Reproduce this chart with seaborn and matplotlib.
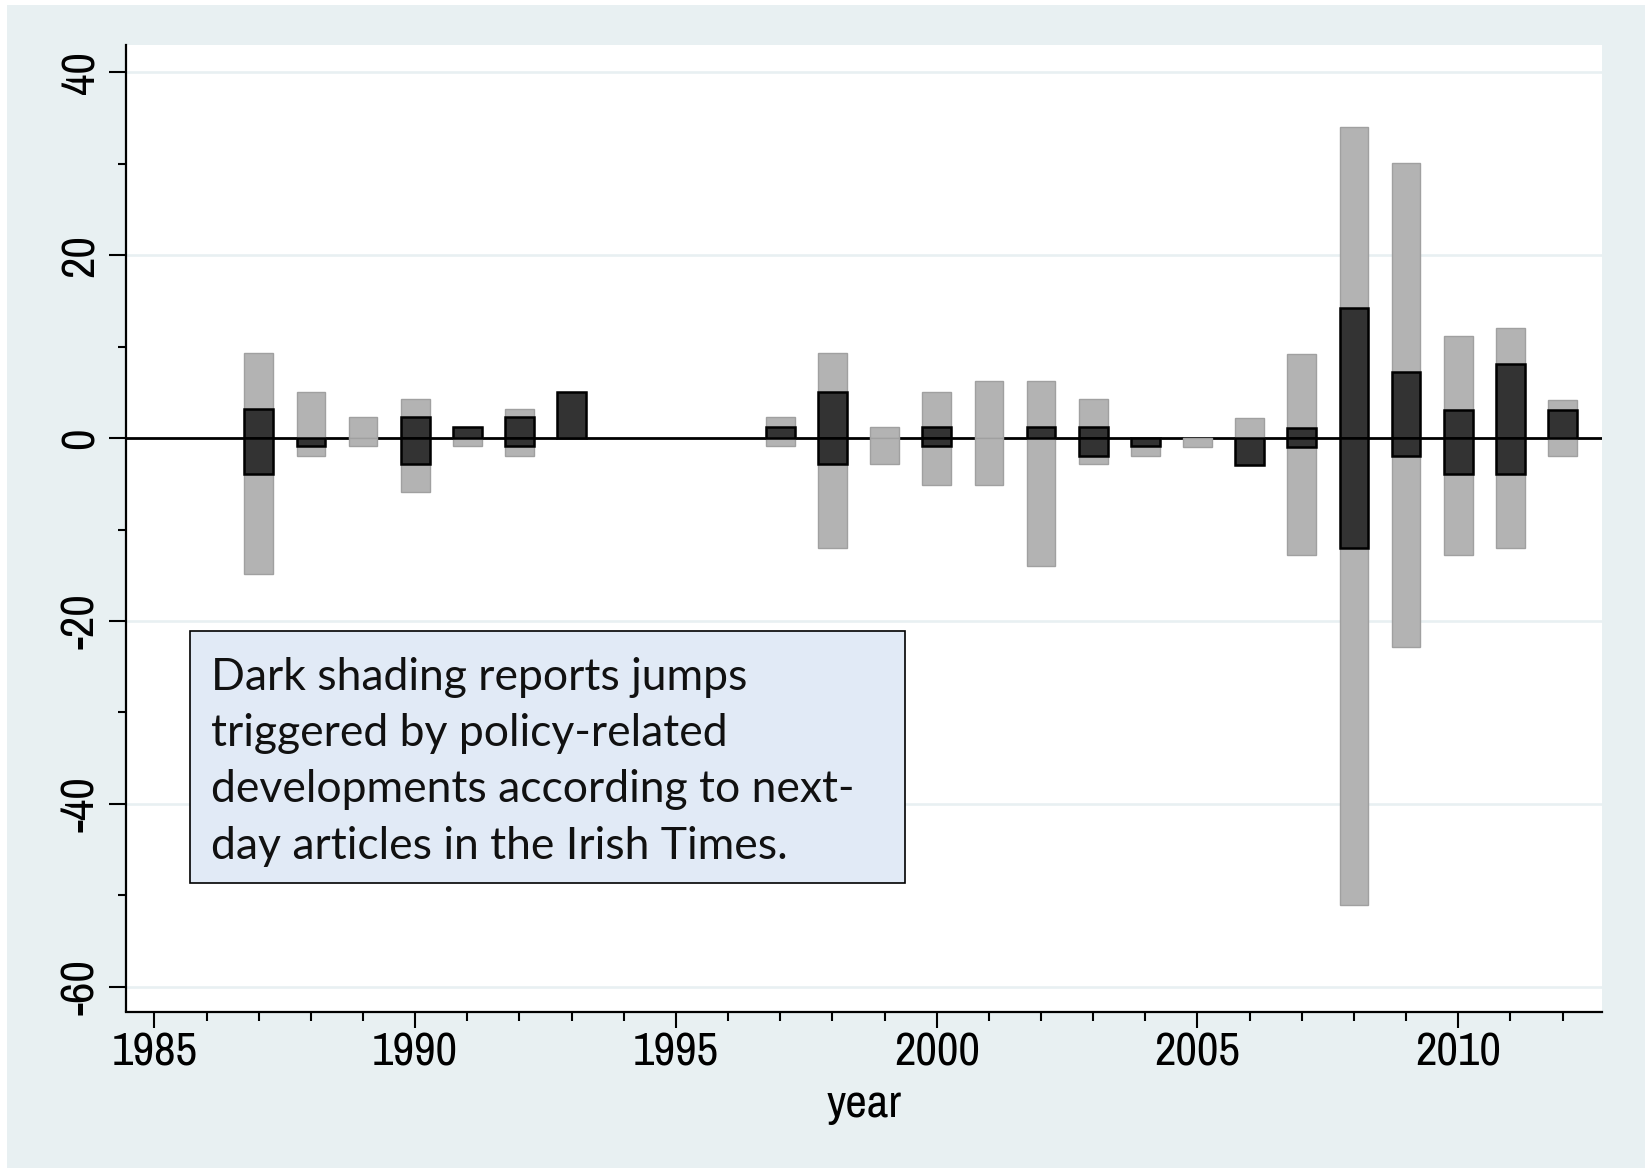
import numpy as np
import pandas as pd
import matplotlib
matplotlib.use("Agg")
import matplotlib.pyplot as plt
from matplotlib import font_manager
from matplotlib.font_manager import FontProperties
from matplotlib.textpath import TextPath
from matplotlib.patches import Rectangle
from matplotlib.ticker import MultipleLocator
import seaborn as sns

# Yearly jump counts: total (light) and policy-related (dark), split into up and down moves
years = [1987, 1988, 1989, 1990, 1991, 1992, 1993,
         1997, 1998, 1999, 2000, 2001, 2002, 2003, 2004, 2005,
         2006, 2007, 2008, 2009, 2010, 2011, 2012]
all_up = [9.3, 5.1, 2.3, 4.3, 1.2, 3.2, 5.1,
          2.3, 9.3, 1.2, 5.1, 6.2, 6.2, 4.3, 0.0, 0.0,
          2.2, 9.2, 34.0, 30.1, 11.2, 12.0, 4.2]
all_down = [-14.9, -2.0, -0.9, -5.9, -0.9, -2.0, 0.0,
            -0.9, -12.0, -2.8, -5.1, -5.1, -14.0, -2.8, -2.0, -1.0,
            -2.9, -12.8, -51.0, -22.8, -12.8, -12.0, -2.0]
policy_up = [3.2, 0.0, 0.0, 2.3, 1.2, 2.3, 5.1,
             1.2, 5.1, 0.0, 1.2, 0.0, 1.2, 1.2, 0.0, 0.0,
             0.0, 1.1, 14.2, 7.2, 3.1, 8.1, 3.1]
policy_down = [-3.9, -0.9, 0.0, -2.8, 0.0, -0.9, 0.0,
               0.0, -2.8, 0.0, -0.9, 0.0, 0.0, -2.0, -0.9, 0.0,
               -2.9, -1.0, -12.0, -2.0, -3.9, -3.9, 0.0]

y_ticks = [-60, -40, -20, 0, 20, 40]
x_ticks = [1985, 1990, 1995, 2000, 2005, 2010]
note_lines = ["Dark shading reports jumps",
              "triggered by policy-related",
              "developments according to next-",
              "day articles in the Irish Times."]

sns.set_style("ticks")

# Axis text: a narrow grotesque when one is installed, sized so a year label is ~59pt wide
axis_family = "Liberation Sans"
for cand in ["Liberation Sans Narrow", "Arial Narrow", "Nimbus Sans Narrow",
             "Pragati Narrow", "PT Sans Narrow", "Roboto Condensed", "Archivo Narrow"]:
    try:
        font_manager.findfont(cand, fallback_to_default=False)
        axis_family = cand
        break
    except ValueError:
        continue
year_w = TextPath((0, 0), "1985", size=100,
                  prop=FontProperties(family=axis_family)).get_extents().width
axis_size = min(100 * 59.0 / year_w, 40)
plt.rcParams["font.family"] = [axis_family, "DejaVu Sans"]

W, H = 1648, 1168
fig = plt.figure(figsize=(W / 100, H / 100), dpi=100, facecolor="white")

# Stata-style outer panel
fig.patches.append(Rectangle((7 / W, 0), (1645 - 7) / W, 1 - 5 / H,
                             transform=fig.transFigure, facecolor="#E8F0F2",
                             edgecolor="none", zorder=-10))

ax_l, ax_r, ax_t, ax_b = 125.7, 1601.7, 45.0, 1011.5
ax = fig.add_axes([ax_l / W, 1 - ax_b / H, (ax_r - ax_l) / W, (ax_b - ax_t) / H])
ax.set_facecolor("white")


def frame(vals):
    df = pd.DataFrame({"year": years, "value": vals})
    return df[df["value"] != 0]


light = dict(color="#B3B3B3", edgecolor="#A0A0A0", linewidth=1.0)
dark = dict(color="#333333", edgecolor="black", linewidth=1.8)
for vals, style in [(all_up, light), (all_down, light),
                    (policy_up, dark), (policy_down, dark)]:
    sns.barplot(data=frame(vals), x="year", y="value", native_scale=True,
                width=0.55, errorbar=None, saturation=1, ax=ax, zorder=3,
                **style)

ax.axhline(0, color="black", lw=2.0, zorder=2)
for yv in y_ticks:
    if yv != 0:
        ax.axhline(yv, color="#E8F0F2", lw=1.9, zorder=1)

ax.set_xlim(1984.45, 2012.75)
ax.set_ylim(-62.7, 43.0)

ax.set_xticks(x_ticks)
ax.set_xticklabels([str(v) for v in x_ticks])
ax.xaxis.set_minor_locator(MultipleLocator(1))
ax.set_yticks(y_ticks)
ax.set_yticklabels([str(v) for v in y_ticks], rotation=90, va="center")
ax.yaxis.set_minor_locator(MultipleLocator(10))

ax.tick_params(axis="x", which="major", length=11.5, width=1.5, pad=3,
               labelsize=axis_size, color="black", labelcolor="black")
ax.tick_params(axis="x", which="minor", length=6.5, width=1.5, color="black")
ax.tick_params(axis="y", which="major", length=12, width=1.5, pad=5,
               labelsize=axis_size, color="black", labelcolor="black")
ax.tick_params(axis="y", which="minor", length=6, width=1.5, color="black")

for side in ["top", "right"]:
    ax.spines[side].set_visible(False)
for side in ["left", "bottom"]:
    ax.spines[side].set_color("black")
    ax.spines[side].set_linewidth(1.6)

ax.set_ylabel("")
ax.set_xlabel("year", fontsize=axis_size, color="black")
ax.xaxis.set_label_coords(0.5, -0.074)

# Annotation box
bx0, bx1, by0, by1 = 190, 905, 631, 883
ax.add_patch(Rectangle(((bx0 - ax_l) / (ax_r - ax_l), (ax_b - by1) / (ax_b - ax_t)),
                       (bx1 - bx0) / (ax_r - ax_l), (by1 - by0) / (ax_b - ax_t),
                       transform=ax.transAxes, facecolor="#E1EAF6",
                       edgecolor="black", lw=1.2, zorder=5))
baselines = [689.5, 746.0, 802.3, 858.7]
for line, yb in zip(note_lines, baselines):
    ax.text((211 - ax_l) / (ax_r - ax_l), (ax_b - yb) / (ax_b - ax_t), line,
            transform=ax.transAxes, ha="left", va="baseline", fontsize=32,
            family=["Lato", "DejaVu Sans"], color="#111111", zorder=6)

fig.savefig("out.png", dpi=100, facecolor=fig.get_facecolor())
